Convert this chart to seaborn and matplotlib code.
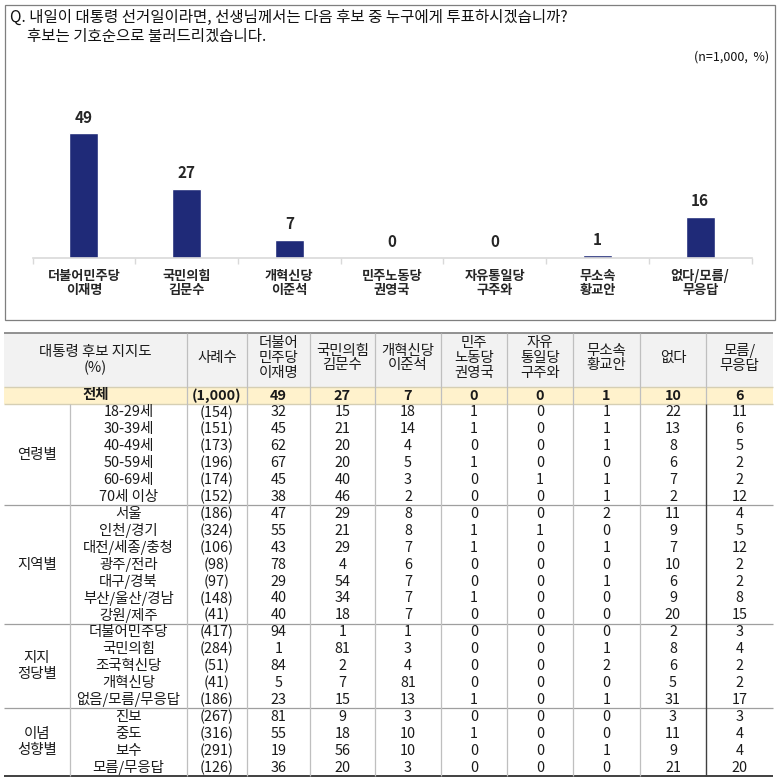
import matplotlib
matplotlib.use('Agg')
import matplotlib.pyplot as plt
import seaborn as sns
import pandas as pd
from matplotlib.patches import Rectangle

sns.set_theme(style='white')
plt.rcParams['font.family'] = ['Noto Sans CJK KR', 'DejaVu Sans']

# chart data
candidates = ['더불어민주당\n이재명', '국민의힘\n김문수', '개혁신당\n이준석', '민주노동당\n권영국',
              '자유통일당\n구주와', '무소속\n황교안', '없다/모름/\n무응답']
support = [49, 27, 7, 0, 0, 1, 16]

# table data
header_cols = ['사례수', '더불어\n민주당\n이재명', '국민의힘\n김문수', '개혁신당\n이준석', '민주\n노동당\n권영국',
               '자유\n통일당\n구주와', '무소속\n황교안', '없다', '모름/\n무응답']
groups = ['연령별', '지역별', '지지\n정당별', '이념\n성향별']
group_sizes = [6, 7, 5, 4]
row_labels = ['18-29세', '30-39세', '40-49세', '50-59세', '60-69세', '70세 이상',
              '서울', '인천/경기', '대전/세종/충청', '광주/전라', '대구/경북', '부산/울산/경남', '강원/제주',
              '더불어민주당', '국민의힘', '조국혁신당', '개혁신당', '없음/모름/무응답',
              '진보', '중도', '보수', '모름/무응답']
sample_n = ['(154)', '(151)', '(173)', '(196)', '(174)', '(152)',
            '(186)', '(324)', '(106)', '(98)', '(97)', '(148)', '(41)',
            '(417)', '(284)', '(51)', '(41)', '(186)',
            '(267)', '(316)', '(291)', '(126)']
lee_jm = [32, 45, 62, 67, 45, 38, 47, 55, 43, 78, 29, 40, 40, 94, 1, 84, 5, 23, 81, 55, 19, 36]
kim_ms = [15, 21, 20, 20, 40, 46, 29, 21, 29, 4, 54, 34, 18, 1, 81, 2, 7, 15, 9, 18, 56, 20]
lee_js = [18, 14, 4, 5, 3, 2, 8, 8, 7, 6, 7, 7, 7, 1, 3, 4, 81, 13, 3, 10, 10, 3]
kwon_yg = [1, 1, 0, 1, 0, 0, 0, 1, 1, 0, 0, 1, 0, 0, 0, 0, 0, 1, 0, 1, 0, 0]
koo_jw = [0, 0, 0, 0, 1, 0, 0, 1, 0, 0, 0, 0, 0, 0, 0, 0, 0, 0, 0, 0, 0, 0]
hwang_ka = [1, 1, 1, 0, 1, 1, 2, 0, 1, 0, 1, 0, 0, 0, 1, 2, 0, 1, 0, 0, 1, 0]
no_one = [22, 13, 8, 6, 7, 2, 11, 9, 7, 10, 6, 9, 20, 2, 8, 6, 5, 31, 3, 11, 9, 21]
dont_know = [11, 6, 5, 2, 2, 12, 4, 5, 12, 2, 2, 8, 15, 3, 4, 2, 2, 17, 3, 4, 4, 20]
total_n = '(1,000)'
total_vals = [49, 27, 7, 0, 0, 1, 10, 6]

W, H = 779, 783
fig = plt.figure(figsize=(W / 100, H / 100), dpi=100)

# overlay axes in pixel coords for box, title and table
tab = fig.add_axes([0, 0, 1, 1])
tab.set_xlim(0, W)
tab.set_ylim(H, 0)
tab.axis('off')

tab.add_patch(Rectangle((5, 5), 770, 315, fill=False, edgecolor='#7f7f7f', lw=0.9))
tab.text(10, 17, 'Q. 내일이 대통령 선거일이라면, 선생님께서는 다음 후보 중 누구에게 투표하시겠습니까?',
         fontsize=11.2, va='center', ha='left', color='#111111')
tab.text(27, 36, '후보는 기호순으로 불러드리겠습니다.', fontsize=11.2, va='center', ha='left', color='#111111')
tab.text(769, 57, '(n=1,000,  %)', fontsize=9, va='center', ha='right', color='#111111')

# bar chart
base_y, top_y = 257.7, 60
ax = fig.add_axes([32.5 / W, 1 - base_y / H, 719 / W, (base_y - top_y) / H])
df = pd.DataFrame({'candidate': candidates, 'support': support})
sns.barplot(data=df, x='candidate', y='support', color='#1f2a78', width=0.28, saturation=1, ax=ax)
ax.set_ylim(0, (base_y - top_y) / 2.54)
ax.set_xlim(-0.5, len(candidates) - 0.5)
ax.patch.set_alpha(0)
for s in ['top', 'right', 'left']:
    ax.spines[s].set_visible(False)
ax.spines['bottom'].set_color('#d9d9d9')
ax.spines['bottom'].set_linewidth(1.2)
ax.set_yticks([])
ax.set_xlabel('')
ax.set_ylabel('')
ax.set_xticks([i - 0.5 for i in range(len(candidates) + 1)], minor=True)
ax.tick_params(axis='x', which='minor', length=4, width=1, color='#d9d9d9', direction='out', bottom=True)
ax.tick_params(axis='x', which='major', length=0, pad=8)
for lbl in ax.get_xticklabels():
    lbl.set_fontsize(9.5)
    lbl.set_fontweight('bold')
    lbl.set_linespacing(1.05)
ax.bar_label(ax.containers[0], fmt='%d', padding=5.5, fontsize=11, fontweight='bold')

# table
col_x = [4, 70, 187, 247, 310, 375, 441, 507, 573, 640, 706, 773]
head_top, head_bot, tot_bot = 333, 387, 404
row_h = (776 - tot_bot) / len(row_labels)
bottom = tot_bot + row_h * len(row_labels)
grey, dark, txt = '#bfbfbf', '#404040', '#1a1a1a'
fs = 10.4

tab.add_patch(Rectangle((col_x[0], head_top), col_x[-1] - col_x[0], head_bot - head_top,
                        facecolor='#f2f2f2', edgecolor='none'))
tab.add_patch(Rectangle((col_x[0], head_bot), col_x[-1] - col_x[0], tot_bot - head_bot,
                        facecolor='#fff2cc', edgecolor='none'))

tab.hlines(head_top, col_x[0], col_x[-1], color='#7f7f7f', lw=1.2)
tab.hlines([head_bot, tot_bot], col_x[0], col_x[-1], color='#d6cfb4', lw=1)
tab.hlines(bottom, col_x[0], col_x[-1], color=dark, lw=1.4)
cum = 0
for g in group_sizes[:-1]:
    cum += g
    tab.hlines(tot_bot + cum * row_h, col_x[0], col_x[-1], color='#9f9f9f', lw=0.9)
tab.vlines(col_x[1], tot_bot, bottom, color=grey, lw=0.9)
tab.vlines(col_x[2:-2], head_top, bottom, color=grey, lw=0.9)
tab.vlines(col_x[-2], head_top, tot_bot, color=grey, lw=0.9)
tab.vlines(col_x[-2], tot_bot, bottom, color=dark, lw=1)

centers = [(col_x[i] + col_x[i + 1]) / 2 for i in range(len(col_x) - 1)]
tab.text((col_x[0] + col_x[2]) / 2, 360, '대통령 후보 지지도\n(%)', ha='center', va='center',
         fontsize=fs, color=txt, linespacing=1.15)
for i, h in enumerate(header_cols):
    tab.text(centers[i + 2], 358, h, ha='center', va='center', fontsize=fs, color=txt, linespacing=1.08)

tot_y = (head_bot + tot_bot) / 2
tab.text((col_x[0] + col_x[2]) / 2, tot_y, '전체', ha='center', va='center', fontsize=fs,
         fontweight='bold', color=txt)
tab.text(centers[2], tot_y, total_n, ha='center', va='center', fontsize=fs, fontweight='bold', color=txt)
for j, v in enumerate(total_vals):
    tab.text(centers[j + 3], tot_y, str(v), ha='center', va='center', fontsize=fs, fontweight='bold', color=txt)

cols = [lee_jm, kim_ms, lee_js, kwon_yg, koo_jw, hwang_ka, no_one, dont_know]
for r, lab in enumerate(row_labels):
    y = tot_bot + (r + 0.5) * row_h
    tab.text(centers[1], y, lab, ha='center', va='center', fontsize=fs, color=txt)
    tab.text(centers[2], y, sample_n[r], ha='center', va='center', fontsize=fs, color=txt)
    for j, c in enumerate(cols):
        tab.text(centers[j + 3], y, str(c[r]), ha='center', va='center', fontsize=fs, color=txt)

start = 0
for g, n in zip(groups, group_sizes):
    y = tot_bot + (start + n / 2) * row_h
    tab.text(centers[0], y, g, ha='center', va='center', fontsize=fs, color=txt, linespacing=1.2)
    start += n

fig.savefig('out.png', dpi=100)
